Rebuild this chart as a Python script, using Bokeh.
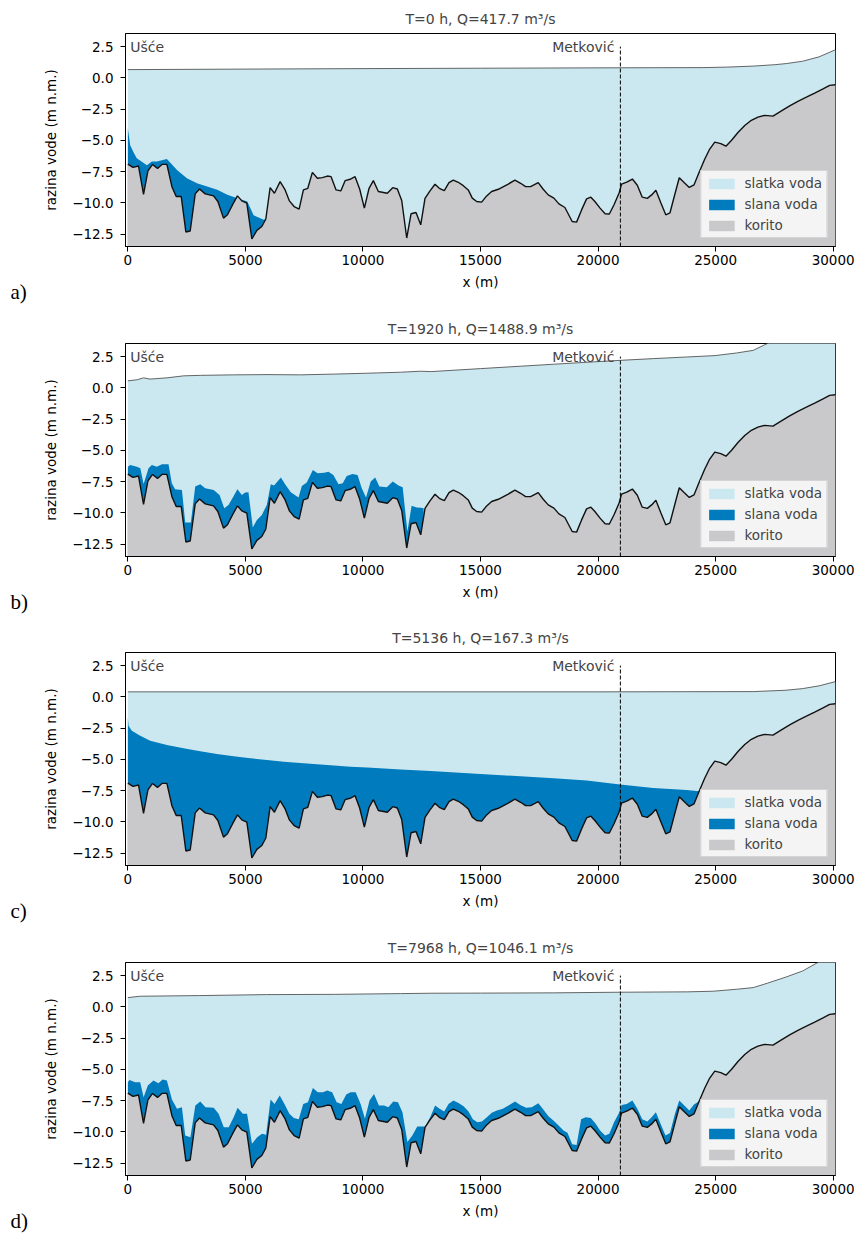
import numpy as np
from bokeh.plotting import figure
from bokeh.layouts import column
from bokeh.models import FixedTicker, CustomJSTickFormatter, Label, Title
from bokeh.embed import file_html
from bokeh.resources import INLINE

# ---------------- data ----------------
# river bed (korito), same in every panel
x_bed = [0, 217, 455, 667, 854, 1050, 1262, 1450, 1660, 1874, 2057, 2270, 2468, 2652, 2865,
         3048, 3290, 3644, 3829, 4068, 4237, 4467, 4662, 4848, 5061, 5274, 5487, 5699, 5869,
         6052, 6235, 6477, 6690, 6872, 7072, 7285, 7467, 7654, 7850, 8062, 8275, 8487, 8645,
         8857, 9057, 9240, 9452, 9665, 9860, 10060, 10260, 10443, 10655, 11037, 11267, 11463,
         11649, 11862, 12045, 12257, 12457, 12640, 12852, 13065, 13248, 13460, 13660, 13843,
         14055, 14268, 14480, 14650, 14837, 15049, 15262, 15474, 15757, 16180, 16465, 16706,
         16919, 17131, 17455, 17668, 17880, 18122, 18335, 18590, 18900, 19087, 19300, 19512,
         19695, 19865, 20085, 20300, 20480, 20680, 20900, 21000, 21220, 21460, 21670, 21880,
         22095, 22280, 22460, 22670, 22880, 23060, 23270, 23455, 23670, 23880, 24080, 24300,
         24540, 24750, 24965, 25220, 25440, 25680, 25960, 26240, 26520, 26800, 27090, 27440,
         27800, 28150, 28500, 28860, 29215, 29570, 29850, 30100]
y_bed = [-6.9, -7.17, -7.06, -9.32, -7.44, -6.93, -7.25, -6.93, -6.93, -8.71, -9.5, -9.5, -12.34,
         -12.26, -9.29, -8.9, -9.29, -9.45, -9.9, -11.23, -10.96, -10.11, -9.45, -9.85, -10.03,
         -12.9, -12.21, -11.9, -11.3, -8.79, -9.24, -8.31, -8.97, -9.85, -10.3, -10.51, -8.97,
         -8.84, -7.57, -8.04, -7.99, -7.86, -7.91, -8.97, -9.05, -8.23, -8.12, -7.91, -8.9,
         -10.43, -8.84, -8.23, -9.1, -9.24, -8.79, -8.9, -9.82, -12.82, -10.88, -10.78, -11.76,
         -9.64, -9.05, -8.52, -8.84, -9.03, -8.39, -8.18, -8.36, -8.63, -8.97, -9.63, -9.9,
         -9.95, -9.45, -9.1, -8.92, -8.5, -8.18, -8.44, -8.71, -8.71, -8.39, -8.92, -9.37,
         -9.63, -10.09, -10.38, -11.5, -11.55, -10.57, -9.69, -9.55, -9.9, -10.43, -10.88,
         -10.9, -10.16, -9.2, -8.5, -8.35, -8.1, -8.6, -9.55, -9.65, -9.37, -9.0, -10.0,
         -10.96, -10.8, -9.3, -8.0, -8.4, -8.77, -8.57, -7.55, -6.5, -5.7, -5.15, -5.26,
         -5.47, -5.0, -4.35, -3.82, -3.4, -3.14, -3.0, -3.06, -2.65, -2.25, -1.88, -1.55,
         -1.22, -0.88, -0.6, -0.55]

# water surface per panel
surf_a_x = [0, 5000, 10000, 15000, 20000, 24500, 25500, 26600, 27500, 28000, 28700, 29400, 30100]
surf_a_y = [0.66, 0.7, 0.74, 0.77, 0.8, 0.82, 0.86, 0.94, 1.05, 1.14, 1.33, 1.68, 2.25]
surf_b_x = [0, 400, 670, 950, 1660, 2370, 3080, 4500, 5920, 7340, 8760, 10180, 11600, 12440,
            12900, 15000, 16690, 18100, 19530, 20935, 22350, 23770, 24970, 25890, 26600,
            27200, 28000, 30100]
surf_b_y = [0.56, 0.65, 0.8, 0.7, 0.8, 0.96, 1.0, 1.04, 1.06, 1.04, 1.1, 1.17, 1.25, 1.33,
            1.3, 1.54, 1.73, 1.89, 2.05, 2.2, 2.34, 2.47, 2.58, 2.79, 3.0, 3.55, 4.2, 5.6]
surf_c_x = [0, 10000, 20000, 26600, 28000, 28700, 29400, 30100]
surf_c_y = [0.4, 0.4, 0.4, 0.42, 0.53, 0.66, 0.88, 1.22]
surf_d_x = [0, 525, 3000, 5900, 8800, 11600, 12900, 15000, 18100, 20900, 23800, 24900, 25900,
            26600, 27200, 28000, 28700, 29300, 30100]
surf_d_y = [0.74, 0.85, 0.9, 0.98, 1.0, 1.06, 1.09, 1.1, 1.12, 1.17, 1.2, 1.25, 1.41, 1.54,
            1.89, 2.39, 2.87, 3.5, 4.3]

# top of the salt-water wedge per panel
salt_a_x = [0, 100, 250, 380, 810, 1020, 1230, 1660, 2090, 2510, 2940, 3370, 3800, 4230,
            4660, 5080, 5350, 5780, 5869]
salt_a_y = [-4.04, -5.4, -6.0, -6.44, -7.0, -6.7, -6.7, -6.5, -7.37, -8.03, -8.43, -8.7,
            -8.96, -9.36, -9.63, -9.9, -11.0, -11.36, -11.3]
salt_b_x = [0, 102, 385, 530, 670, 880, 1020, 1235, 1450, 1730, 1870, 2010, 2300, 2440, 2680,
            2865, 3080, 3290, 3650, 3900, 4100, 4280, 4490, 4660, 4850, 4990, 5130, 5315, 5490,
            5700, 5910, 6080, 6220, 6510, 6690, 6930, 7260, 7400, 7610, 7870, 8070, 8350, 8530,
            8740, 8960, 9140, 9310, 9550, 9770, 9950, 10130, 10330, 10520, 10700, 11010, 11270,
            11510, 11690, 11890, 12070, 12290, 12457, 12580]
salt_b_y = [-6.31, -6.18, -6.31, -6.44, -7.7, -6.44, -6.18, -6.31, -6.12, -6.12, -7.64, -8.12,
            -8.17, -10.78, -10.78, -7.9, -7.72, -8.04, -8.17, -8.57, -9.64, -9.37, -8.7, -8.12,
            -8.57, -8.38, -8.36, -11.18, -10.57, -10.17, -9.37, -7.72, -7.82, -7.18, -7.72,
            -8.36, -8.78, -7.85, -7.58, -6.57, -6.84, -6.79, -6.71, -6.97, -7.72, -7.64, -7.05,
            -6.89, -6.97, -8.04, -8.78, -7.5, -7.18, -7.9, -7.96, -7.5, -7.82, -7.96, -11.5,
            -9.43, -9.58, -9.6, -9.64]
salt_c_x = [0, 30, 170, 525, 950, 1660, 2370, 3080, 3790, 4500, 5210, 5920, 6630, 7340, 8050,
            8760, 9470, 10180, 10890, 11600, 12880, 15000, 16690, 18100, 19520, 20935, 22350,
            23770, 24300]
salt_c_y = [-1.65, -2.31, -2.71, -3.11, -3.51, -3.86, -4.12, -4.36, -4.57, -4.76, -4.92, -5.05,
            -5.19, -5.29, -5.4, -5.5, -5.59, -5.66, -5.74, -5.82, -5.93, -6.17, -6.36, -6.52,
            -6.7, -7.02, -7.29, -7.45, -7.55]
salt_d_x = [0, 70, 310, 525, 670, 850, 1090, 1300, 1480, 1660, 1875, 2090, 2300, 2440, 2660,
            2870, 3080, 3300, 3650, 3860, 4080, 4290, 4500, 4670, 4890, 5070, 5280, 5500, 5710,
            5880, 6070, 6240, 6460, 6660, 6870, 7060, 7270, 7460, 7660, 7870, 8080, 8300, 8480,
            8690, 8880, 9080, 9290, 9470, 9690, 9900, 10085, 10280, 10470, 10680, 10900, 11080,
            11290, 11490, 11680, 11890, 12100, 12310, 12650, 12860, 13070, 13260, 13456, 13640,
            13850, 14065, 14280, 14490, 14675, 14870, 15060, 15270, 15480, 15700, 15950, 16190,
            16470, 16690, 16940, 17180, 17460, 17680, 17890, 18100, 18320, 18530, 18700, 18900,
            19087, 19280, 19475, 19690, 19900, 20085, 20300, 20480, 20680, 20890, 21005, 21220,
            21460, 21670, 21880, 22095, 22280, 22460, 22660, 22870, 23060, 23270, 23455, 23670,
            23880, 24080, 24300]
salt_d_y = [-6.04, -5.85, -6.04, -6.04, -7.23, -6.3, -5.9, -6.12, -5.82, -5.9, -7.42, -8.16,
            -8.03, -10.29, -10.43, -7.9, -7.58, -8.03, -8.08, -8.56, -9.63, -9.63, -8.83, -8.08,
            -8.56, -8.56, -10.96, -10.43, -10.16, -10.24, -7.42, -7.77, -7.1, -7.77, -8.56,
            -8.9, -9.0, -7.77, -7.63, -6.5, -6.84, -6.84, -6.7, -6.84, -7.63, -7.77, -7.02,
            -6.84, -6.84, -7.77, -8.96, -7.5, -6.97, -7.9, -7.9, -8.03, -7.58, -7.63, -8.43,
            -10.82, -10.29, -9.57, -9.57, -8.83, -7.9, -8.16, -8.38, -7.77, -7.5, -7.69, -7.95,
            -8.38, -9.0, -9.23, -9.18, -8.83, -8.48, -8.3, -8.16, -7.9, -7.58, -7.85, -8.08,
            -8.03, -7.71, -8.24, -8.75, -9.1, -9.5, -9.9, -10.08, -11.0, -11.05, -9.0, -8.83,
            -8.9, -9.36, -9.9, -10.3, -10.16, -9.23, -8.5, -7.85, -7.77, -7.5, -8.16, -9.0,
            -9.18, -8.83, -8.43, -9.36, -10.29, -10.1, -8.56, -7.5, -7.9, -8.3, -7.82, -7.55]

titles = ["T=0 h, Q=417.7 m\u00b3/s", "T=1920 h, Q=1488.9 m\u00b3/s",
          "T=5136 h, Q=167.3 m\u00b3/s", "T=7968 h, Q=1046.1 m\u00b3/s"]
panel_letters = ["a)", "b)", "c)", "d)"]
legend_labels = ["slatka voda", "slana voda", "korito"]
x_ticks = [0, 5000, 10000, 15000, 20000, 25000, 30000]
y_ticks = [-12.5, -10.0, -7.5, -5.0, -2.5, 0.0, 2.5]
usce_x = 100
metkovic_x = 20950
metkovic_top = 2.5
label_y = 2.45

panels = [
    (surf_a_x, surf_a_y, salt_a_x, salt_a_y),
    (surf_b_x, surf_b_y, salt_b_x, salt_b_y),
    (surf_c_x, surf_c_y, salt_c_x, salt_c_y),
    (surf_d_x, surf_d_y, salt_d_x, salt_d_y),
]
for a, b in [(x_bed, y_bed)] + [(p[0], p[1]) for p in panels] + [(p[2], p[3]) for p in panels]:
    assert len(a) == len(b), (len(a), len(b))

# ---------------- style ----------------
FRESH = "#cbe8f0"
SALT = "#007bbd"
BED = "#c9c9cb"
FONT = "DejaVu Sans"
FS = "13.5px"
X_RANGE = (-100, 30100)
Y_RANGE = (-13.5, 3.55)
heights = [310, 309, 310, 305]
FRAME_H = 213
TOP = 33
WIDTH = 857
LEFT = 125
RIGHT = 22


def make_panel(i):
    wx, wy, sx, sy = panels[i]
    h = heights[i]
    p = figure(width=WIDTH, height=h, x_range=X_RANGE, y_range=Y_RANGE,
               output_backend="svg", toolbar_location=None,
               min_border_left=LEFT, min_border_right=RIGHT,
               min_border_top=TOP, min_border_bottom=h - TOP - FRAME_H)
    p.title.text = titles[i]
    p.title.align = "center"
    p.title.text_font = FONT
    p.title.text_font_size = "14px"
    p.title.text_font_style = "normal"
    p.title.standoff = 13

    base = Y_RANGE[0] - 1.0
    p.varea(x=wx, y1=[base] * len(wx), y2=wy, fill_color=FRESH, legend_label=legend_labels[0])
    p.varea(x=sx, y1=[base] * len(sx), y2=sy, fill_color=SALT, legend_label=legend_labels[1])
    p.varea(x=x_bed, y1=[base] * len(x_bed), y2=y_bed, fill_color=BED, legend_label=legend_labels[2])
    p.line(wx, wy, line_color="#555555", line_width=0.9)
    p.line(x_bed, y_bed, line_color="#111111", line_width=1.4)
    p.line([metkovic_x, metkovic_x], [Y_RANGE[0], metkovic_top], line_color="black",
           line_width=1, line_dash="4 2")

    p.add_layout(Label(x=usce_x, y=label_y, text="U\u0161\u0107e", text_font=FONT,
                       text_font_size="14px", text_baseline="middle", text_align="left"))
    p.add_layout(Label(x=metkovic_x, y=label_y, x_offset=-6, text="Metkovi\u0107", text_font=FONT,
                       text_font_size="14px", text_baseline="middle", text_align="right"))

    p.xgrid.grid_line_color = None
    p.ygrid.grid_line_color = None
    p.outline_line_color = "black"
    p.outline_line_width = 1
    p.outline_line_alpha = 1

    p.xaxis.ticker = FixedTicker(ticks=x_ticks)
    p.yaxis.ticker = FixedTicker(ticks=y_ticks)
    p.yaxis.formatter = CustomJSTickFormatter(code="return tick.toFixed(1).replace('-', '\\u2212');")
    p.xaxis.axis_label = "x (m)"
    p.yaxis.axis_label = "razina vode (m n.m.)"
    for ax in (p.xaxis, p.yaxis):
        ax.axis_label_text_font = FONT
        ax.axis_label_text_font_size = FS
        ax.axis_label_text_font_style = "normal"
        ax.axis_label_text_color = "black"
        ax.major_label_text_font = FONT
        ax.major_label_text_font_size = FS
        ax.major_label_text_color = "black"
        ax.minor_tick_line_color = None
        ax.major_tick_in = 0
        ax.major_tick_out = 5
        ax.major_tick_line_color = "black"
        ax.axis_line_color = "black"
    p.xaxis.major_label_standoff = 3
    p.xaxis.axis_label_standoff = 6
    p.yaxis.major_label_standoff = 7
    p.yaxis.axis_label_standoff = 10

    # panel letter, placed in the bottom side panel, left of the frame
    p.add_layout(Title(text=panel_letters[i], align="left", offset=-(LEFT - 10),
                       vertical_align="top", standoff=-26, text_font="Liberation Serif",
                       text_font_size="21px", text_font_style="normal", text_color="black"),
                 "below")

    lg = p.legend[0]
    lg.location = "bottom_right"
    lg.margin = 8
    lg.padding = 4
    lg.spacing = 5
    lg.glyph_width = 32
    lg.glyph_height = 13
    lg.label_height = 13
    lg.label_standoff = 7
    lg.label_text_font = FONT
    lg.label_text_font_size = FS
    lg.background_fill_color = "white"
    lg.background_fill_alpha = 0.8
    lg.border_line_color = "#cccccc"
    lg.border_line_alpha = 0.8
    return p


layout = column(*[make_panel(i) for i in range(4)], spacing=0)
open("out.html", "w").write(file_html(layout, INLINE))
